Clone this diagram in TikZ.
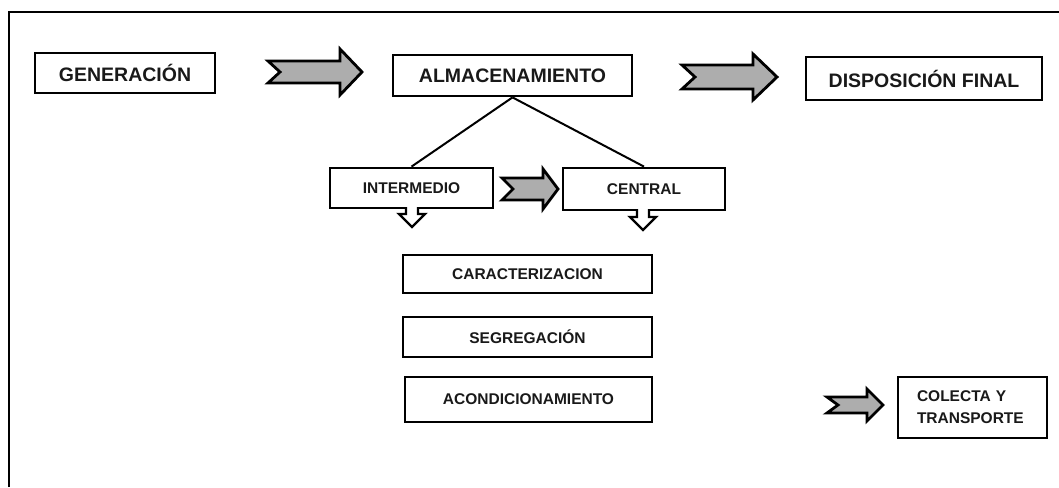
\documentclass[tikz,border=0pt]{standalone}
\usepackage{fontspec}
\setmainfont{Liberation Sans}
\newcommand\FatArr[7]{% tail x, notch x, head-base x, tip x, centre y, shaft half, head half
  \draw[fat] (#1,#5-#6) -- (#3,#5-#6) -- (#3,#5-#7) -- (#4,#5) -- (#3,#5+#7)
    -- (#3,#5+#6) -- (#1,#5+#6) -- (#2,#5) -- cycle;}
\tikzset{
  box/.style={draw=black, line width=2.8pt, fill=white, inner sep=0pt,
    font=\bfseries\fontsize{15.5}{18}\selectfont, text=black!90},
  bigbox/.style={box, font=\bfseries\fontsize{19.5}{22}\selectfont},
  thinbox/.style={draw=black, line width=1.3pt, fill=white, inner ysep=0pt, inner xsep=19pt,
    text width=111pt, align=left, font=\bfseries\fontsize{15.5}{22}\selectfont, text=black!90},
  fat/.style={draw=black, line width=2.8pt, fill=black!32, line join=miter},
  hollow/.style={draw=black, line width=2.4pt, fill=white, line join=miter},
  link/.style={draw=black, line width=2pt},
  frameline/.style={draw=black, line width=1.5pt}
}
\begin{document}
\begin{tikzpicture}[x=1pt, y=-1pt]
\useasboundingbox (0,0) rectangle (1059,487);
\draw[frameline] (9,487) -- (9,12) -- (1059,12);

% nodes
\node[bigbox, minimum width=180pt, minimum height=40pt] (gen) at (125,73) {GENERACIÓN};
\node[bigbox, minimum width=239pt, minimum height=41pt] (alm) at (512.5,75.5) {ALMACENAMIENTO};
\node[bigbox, minimum width=236pt, minimum height=43pt] (disp) at (924,78.5) {DISPOSICIÓN FINAL};
\node[box, minimum width=163pt, minimum height=40pt] (inter) at (411.5,188) {INTERMEDIO};
\node[box, minimum width=162pt, minimum height=42pt] (cent) at (644,189) {CENTRAL};
\node[box, minimum width=249pt, minimum height=38pt] (car) at (527.5,274) {CARACTERIZACION};
\node[box, minimum width=249pt, minimum height=40pt] (seg) at (527.5,337) {SEGREGACIÓN};
\node[box, minimum width=247pt, minimum height=45pt] (aco) at (528.5,399.5) {ACONDICIONAMIENTO};
\node[thinbox, minimum height=61pt] (col) at (972.5,407.5) {COLECTA Y\\TRANSPORTE};

% links
\draw[link] (alm.south) -- (inter.north);
\draw[link] (alm.south) -- (cent.north);

% block arrows
\FatArr{268}{280}{340}{362}{72}{11}{23}
\FatArr{682}{695}{753}{777}{77}{12}{23}
\FatArr{502}{513}{543}{558}{189}{11}{20}
\FatArr{827}{838}{867}{883}{405}{8}{16}

% hollow down arrows
\draw[hollow] (406,207) -- (406,214) -- (399,214) -- (412,227) -- (425,214) -- (418,214) -- (418,207);
\draw[hollow] (637,209) -- (637,217) -- (630,217) -- (643,230) -- (656,217) -- (649,217) -- (649,209);
\end{tikzpicture}
\end{document}
